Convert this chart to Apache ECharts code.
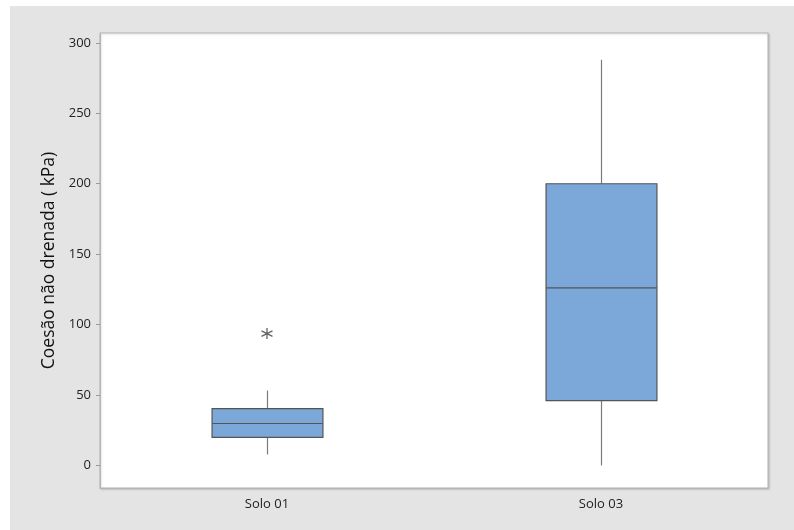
<!DOCTYPE html>
<html>
<head>
<meta charset="utf-8">
<script src="https://cdn.jsdelivr.net/npm/echarts@6/dist/echarts.min.js"></script>
<style>
  html, body { margin: 0; padding: 0; background: #ffffff; }
  #chart { width: 794px; height: 530px; }
</style>
</head>
<body>
<div id="chart"></div>
<script>
// Undrained cohesion by soil
const categories = ['Solo 01', 'Solo 03'];
// [whisker low, Q1, median, Q3, whisker high]
const boxStats = [
  [7.8, 19.9, 29.8, 40.4, 53.2],
  [0, 46, 126, 200, 288]
];
// Outliers: [category index, value]
const outliers = [[0, 93.6]];
const yTicks = [0, 50, 100, 150, 200, 250, 300];
const yTitle = 'Coesão não drenada ( kPa)';

const FONT = '"Open Sans", "Noto Sans", sans-serif';
const BOX_FILL = '#7ba7d9';
const BOX_EDGE = '#555555';
const WHISKER = '#7a7a7a';

const chart = echarts.init(document.getElementById('chart'), null, { renderer: 'canvas' });

const boxData = boxStats.map((s, i) => [i].concat(s));

function renderBox(params, api) {
  const idx = api.value(0);
  const lo = api.value(1), q1 = api.value(2), med = api.value(3), q3 = api.value(4), hi = api.value(5);
  const band = api.size([1, 0])[0];
  const w = band * 0.332;
  const pHi = api.coord([idx, hi]);
  const pQ3 = api.coord([idx, q3]);
  const pMed = api.coord([idx, med]);
  const pQ1 = api.coord([idx, q1]);
  const pLo = api.coord([idx, lo]);
  const x = Math.round(pQ3[0]) + 0.5;
  const left = x - w / 2;
  return {
    type: 'group',
    children: [
      { type: 'line', shape: { x1: x, y1: pHi[1], x2: x, y2: pQ3[1] },
        style: { stroke: WHISKER, lineWidth: 1.2 } },
      { type: 'line', shape: { x1: x, y1: pQ1[1], x2: x, y2: pLo[1] },
        style: { stroke: WHISKER, lineWidth: 1.2 } },
      { type: 'rect', shape: { x: left, y: pQ3[1], width: w, height: pQ1[1] - pQ3[1] },
        style: { fill: BOX_FILL, stroke: BOX_EDGE, lineWidth: 1.2 } },
      { type: 'line', shape: { x1: left, y1: pMed[1], x2: left + w, y2: pMed[1] },
        style: { stroke: BOX_EDGE, lineWidth: 1.2 } }
    ]
  };
}

const option = {
  animation: false,
  backgroundColor: '#ffffff',
  graphic: [
    { type: 'rect', left: 10, top: 6, z: -10,
      shape: { width: 784, height: 524 },
      style: { fill: '#e4e4e4' } }
  ],
  grid: {
    left: 100, right: 26, top: 33, bottom: 42,
    show: true,
    backgroundColor: '#ffffff',
    borderColor: '#b5b5b5',
    borderWidth: 1,
    shadowColor: 'rgba(0,0,0,0.18)',
    shadowBlur: 2,
    shadowOffsetX: 1,
    shadowOffsetY: 1
  },
  xAxis: {
    type: 'category',
    data: categories,
    boundaryGap: true,
    axisLine: { onZero: false, lineStyle: { color: '#b5b5b5', width: 1 } },
    axisTick: { alignWithLabel: true, length: 4, lineStyle: { color: '#9a9a9a' } },
    axisLabel: { color: '#222', fontFamily: FONT, fontSize: 13, margin: 10 },
    splitLine: { show: false }
  },
  yAxis: {
    type: 'value',
    min: -16,
    max: 307,
    name: yTitle,
    nameLocation: 'middle',
    nameGap: 42,
    nameTextStyle: { color: '#111', fontFamily: FONT, fontSize: 17.5 },
    axisLine: { show: true, onZero: false, lineStyle: { color: '#b5b5b5', width: 1 } },
    axisTick: { show: true, length: 4, customValues: yTicks, lineStyle: { color: '#9a9a9a' } },
    axisLabel: { color: '#222', fontFamily: FONT, fontSize: 13, margin: 9, customValues: yTicks },
    splitLine: { show: false }
  },
  series: [
    {
      type: 'custom',
      renderItem: renderBox,
      encode: { x: 0, y: [1, 2, 3, 4, 5] },
      data: boxData,
      z: 2
    },
    {
      type: 'scatter',
      data: outliers,
      symbol: 'path://M0,-5L0,5M-4.33,-2.5L4.33,2.5M-4.33,2.5L4.33,-2.5',
      symbolSize: 11,
      itemStyle: { color: 'rgba(0,0,0,0)', borderColor: '#3c3c3c', borderWidth: 1.3 },
      z: 3
    }
  ]
};

chart.setOption(option);
</script>
</body>
</html>
